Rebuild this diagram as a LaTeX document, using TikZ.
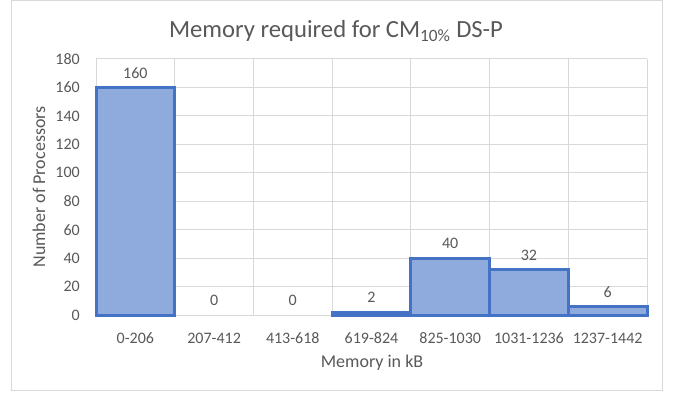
\documentclass[tikz,border=0pt]{standalone}
\usepackage{fontspec}
\setmainfont{Carlito}
\usetikzlibrary{positioning}
\definecolor{Grid}{HTML}{D9D9D9}
\definecolor{Ink}{HTML}{595959}
\definecolor{BarFill}{HTML}{8FAADC}
\definecolor{BarEdge}{HTML}{4472C4}

\begin{document}
\begin{tikzpicture}[x=0.75pt,y=-0.75pt,
    grid/.style={draw=Grid,line width=0.75pt},
    bar/.style={fill=BarFill,draw=BarEdge,line width=2.25pt},
    ticklab/.style={font=\fontsize{12}{14}\selectfont,text=Ink,inner sep=0pt},
    axtitle/.style={font=\fontsize{13.5}{16}\selectfont,text=Ink,inner sep=0pt}
  ]
    \useasboundingbox[fill=white] (0,0) rectangle (673,392);
    \draw[grid] (11,1) rectangle (662,390);
    % horizontal grid + y labels
    \foreach \v in {0,20,...,180}{
      \draw[grid] (96,{315-\v*1.42222}) -- (647,{315-\v*1.42222});
      \node[ticklab,anchor=east] (y\v) at (80,{315-\v*1.42222}) {\v};
    }
    % vertical grid
    \foreach \i in {0,...,7}\draw[grid] ({96+\i*78.714},59) -- ({96+\i*78.714},315);
    % bars, data labels, categories
    \foreach \i/\n/\c in {0/160/0-206,1/0/207-412,2/0/413-618,3/2/619-824,
        4/40/825-1030,5/32/1031-1236,6/6/1237-1442}{
      \ifnum\n>0
        \draw[bar] ({96+\i*78.714},315) rectangle ({96+(\i+1)*78.714},{315-\n*1.42222});
      \fi
      \node[ticklab] (d\i) at ({96+(\i+0.5)*78.714},{300.5-\n*1.42222}) {\n};
      \node[ticklab] (c\i) at ({96+(\i+0.5)*78.714},338) {\c};
    }
    \node[axtitle] (xt) at (372,363) {Memory in kB};
    \node[axtitle,rotate=90] (yt) at (39,187) {Number of Processors};
    \node[font=\fontsize{18.5}{22}\selectfont,text=Ink,inner sep=0pt] (title) at (336,31)
      {Memory required for CM\textsubscript{10\%} DS-P};
  \end{tikzpicture}
\end{document}
